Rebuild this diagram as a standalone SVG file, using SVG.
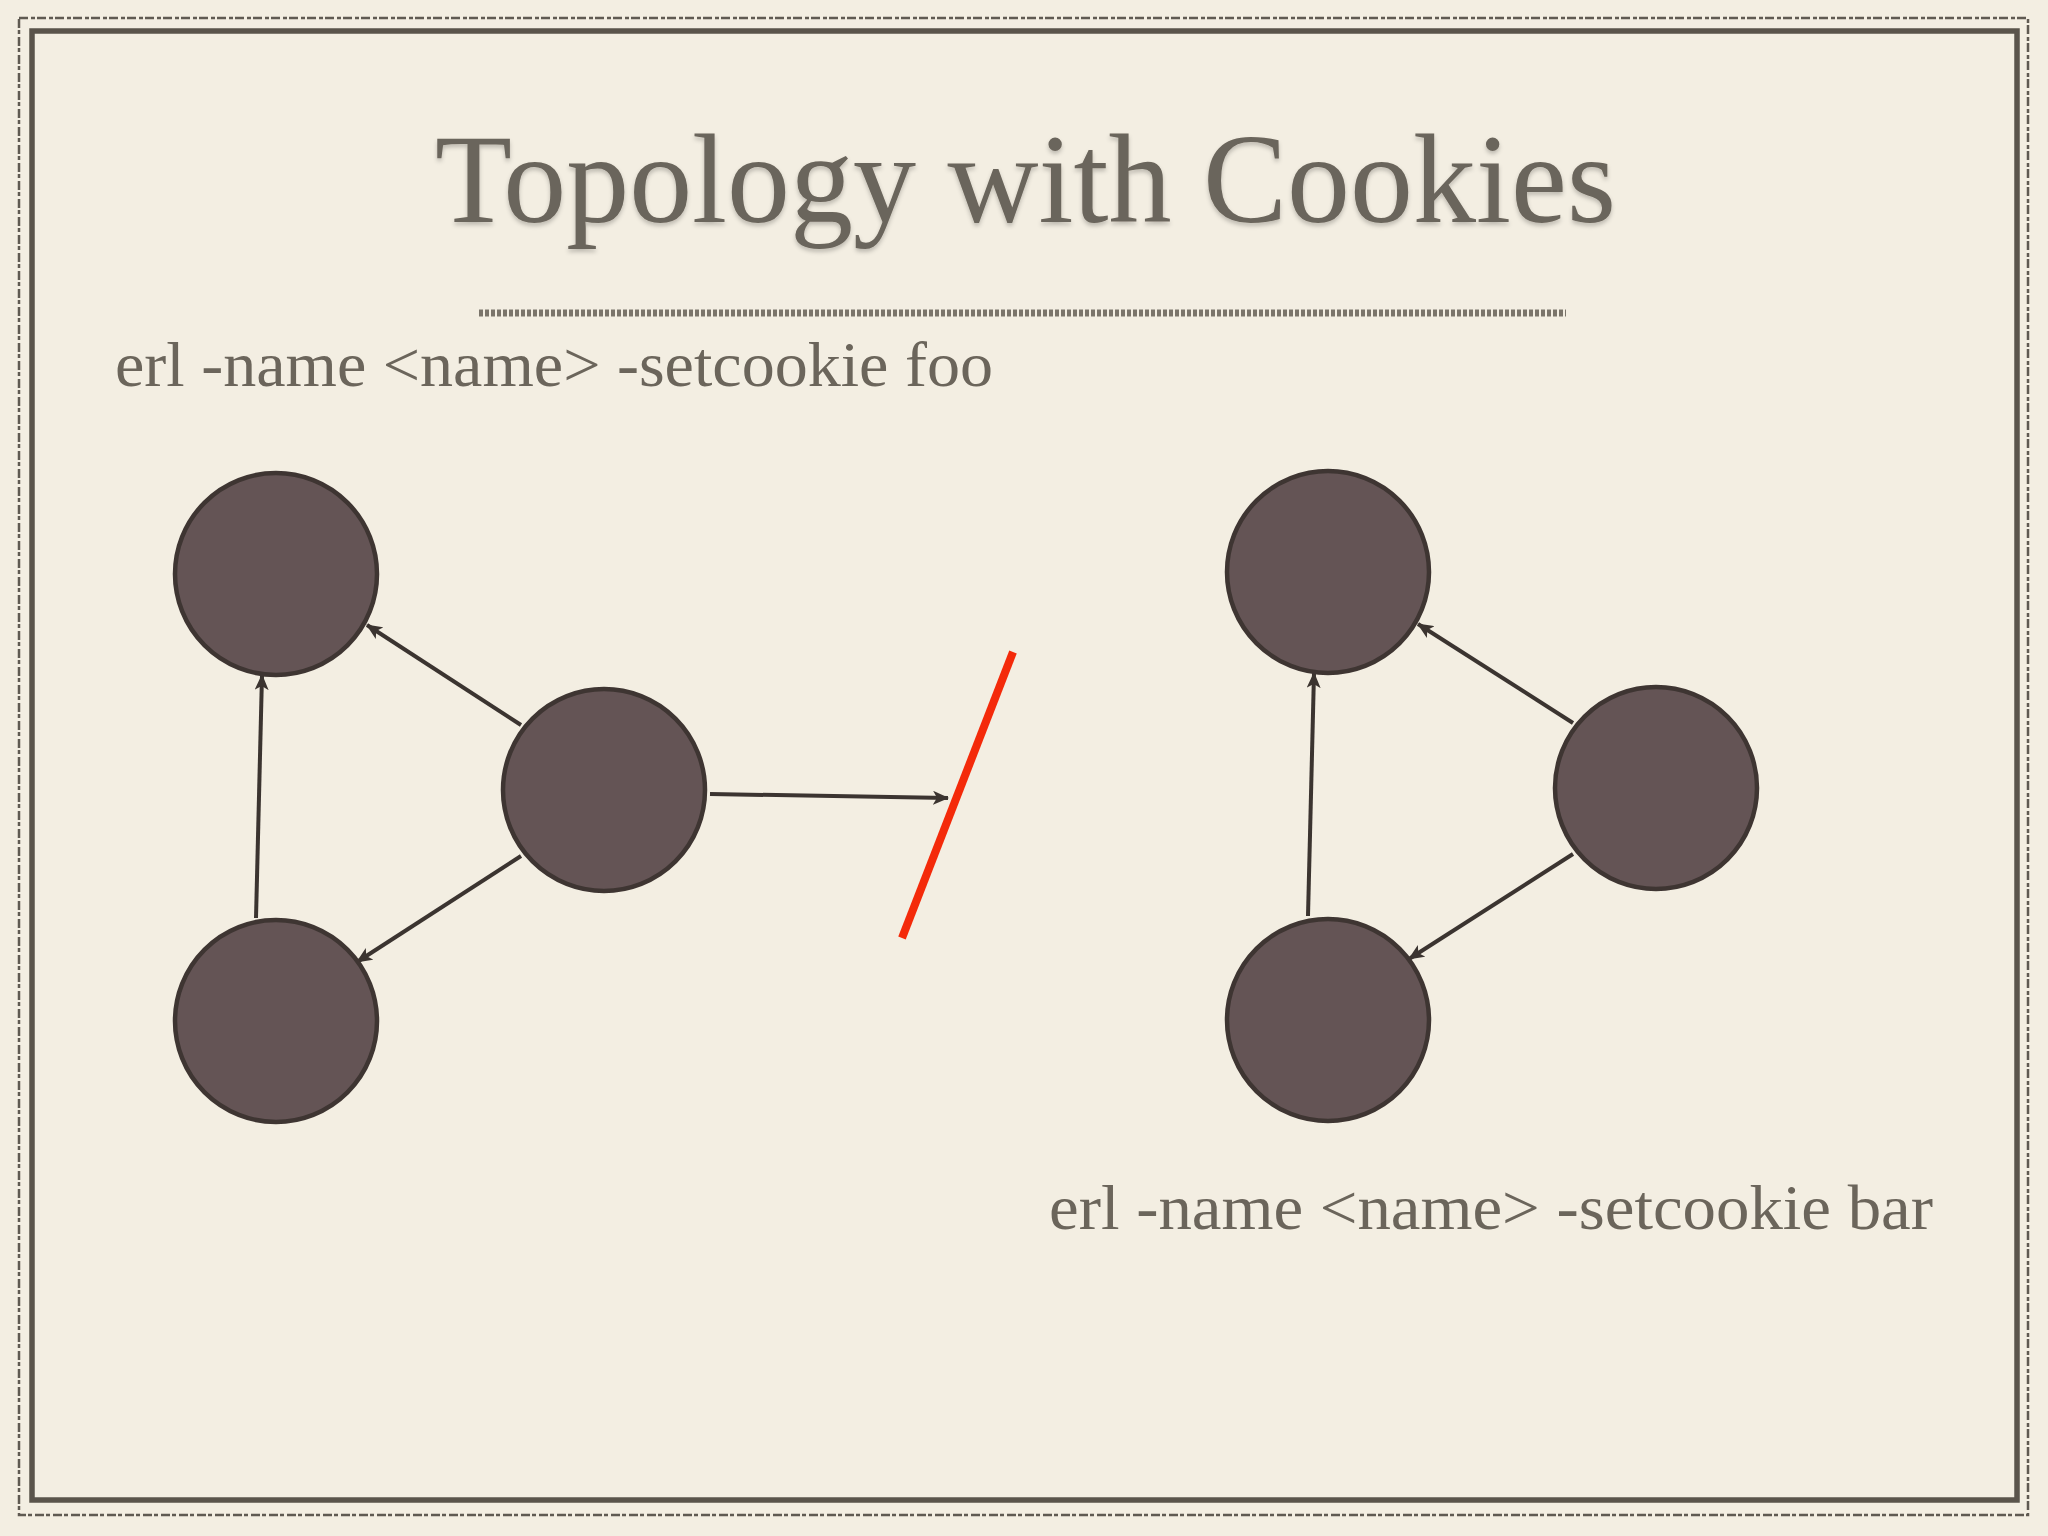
<svg xmlns="http://www.w3.org/2000/svg" width="2048" height="1536" viewBox="0 0 2048 1536">
  <style>
    .node { fill: #645455; stroke: #3e3532; stroke-width: 4.5; }
    .edge { stroke: #3b3430; stroke-width: 4; fill: none; marker-end: url(#arrow); }
    .label { font-family: "Liberation Serif", "Times New Roman", serif; fill: #6b655b; }
  </style>
  <defs>
    <marker id="arrow" markerUnits="userSpaceOnUse" viewBox="0 0 16 14" refX="15" refY="7" markerWidth="16" markerHeight="14" orient="auto">
      <path d="M0,0 L16,7 L0,14 L4,7 Z" fill="#3b3430"/>
    </marker>
    <filter id="shadow" x="-5%" y="-20%" width="110%" height="150%">
      <feDropShadow dx="0" dy="3" stdDeviation="2" flood-color="#000" flood-opacity="0.22"/>
    </filter>
  </defs>

  <rect x="0" y="0" width="2048" height="1536" fill="#f3eee2"/>

  <g id="border">
    <rect x="19" y="18" width="2009" height="1497" fill="none" stroke="#5f5a52" stroke-width="2.5" stroke-dasharray="9,3,4,2"/>
    <rect x="32" y="31" width="1985" height="1469" fill="none" stroke="#5a544b" stroke-width="5.5"/>
  </g>

  <g id="title">
    <text class="label" x="435" y="222" font-size="126" textLength="1181" lengthAdjust="spacingAndGlyphs" fill="#67625a" filter="url(#shadow)">Topology with Cookies</text>
    <line x1="479" y1="313" x2="1566" y2="313" stroke="#7a746a" stroke-width="7" stroke-dasharray="4,2"/>
  </g>

  <g id="label-foo">
    <text class="label" x="115" y="386" font-size="64" textLength="878" lengthAdjust="spacingAndGlyphs">erl -name &lt;name&gt; -setcookie foo</text>
  </g>
  <g id="label-bar">
    <text class="label" x="1049" y="1229" font-size="64" textLength="884" lengthAdjust="spacingAndGlyphs">erl -name &lt;name&gt; -setcookie bar</text>
  </g>

  <g id="connectors">
    <line class="edge" x1="256" y1="918" x2="262" y2="675"/>
    <line class="edge" x1="521" y1="725" x2="367" y2="625"/>
    <line class="edge" x1="521" y1="856" x2="357" y2="962"/>
    <line class="edge" x1="710" y1="794" x2="948" y2="798"/>
    <line class="edge" x1="1308" y1="916" x2="1314" y2="673"/>
    <line class="edge" x1="1573" y1="723" x2="1418" y2="624"/>
    <line class="edge" x1="1573" y1="854" x2="1409" y2="959"/>
  </g>

  <g id="blocked">
    <line x1="1013" y1="652" x2="902" y2="938" stroke="#f42a0a" stroke-width="8"/>
  </g>

  <g id="node-l1"><circle class="node" cx="276" cy="574" r="101"/></g>
  <g id="node-l2"><circle class="node" cx="604" cy="790" r="101"/></g>
  <g id="node-l3"><circle class="node" cx="276" cy="1021" r="101"/></g>
  <g id="node-r1"><circle class="node" cx="1328" cy="572" r="101"/></g>
  <g id="node-r2"><circle class="node" cx="1656" cy="788" r="101"/></g>
  <g id="node-r3"><circle class="node" cx="1328" cy="1020" r="101"/></g>
</svg>
